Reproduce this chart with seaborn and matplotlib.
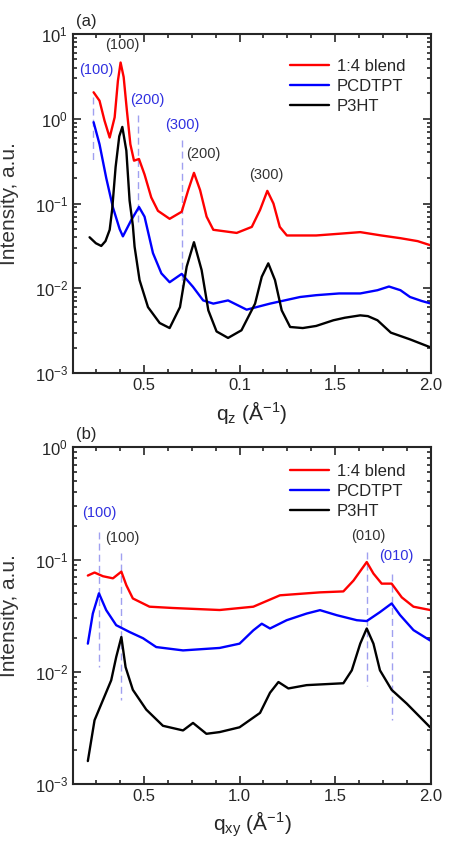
"""
GIWAXS line cuts: out-of-plane (q_z) and in-plane (q_xy) profiles.
"""
import matplotlib
matplotlib.use("Agg")
import matplotlib.pyplot as plt
import matplotlib.ticker as mticker
import seaborn as sns

sns.set_style("ticks")
plt.rcParams["font.family"] = ["Liberation Sans", "DejaVu Sans"]
plt.rcParams["mathtext.fontset"] = "custom"
plt.rcParams["mathtext.rm"] = "Liberation Sans"
plt.rcParams["mathtext.it"] = "Liberation Sans:italic"
plt.rcParams["lines.solid_joinstyle"] = "round"

RED, BLUE, BLACK = "#ff0000", "#0000ff", "#000000"
DASH = "#a0a0f0"
LBL_BLUE, LBL_DARK = "#3030e0", "#333333"
SERIES = ["1:4 blend", "PCDTPT", "P3HT"]

# ── (a) out-of-plane, q_z ────────────────────────────────────────────────────
qz_blend = [0.238, 0.269, 0.295, 0.322, 0.348, 0.365, 0.379, 0.395, 0.412, 0.43, 0.449,
            0.475, 0.504, 0.539, 0.574, 0.635, 0.698, 0.732, 0.762, 0.794, 0.828, 0.863,
            0.985, 1.064, 1.107, 1.145, 1.177, 1.21, 1.247, 1.40, 1.52, 1.63, 1.74,
            1.84, 1.93, 2.0]
iz_blend = [2.05, 1.63, 0.95, 0.60, 1.04, 2.8, 4.6, 3.1, 1.24, 0.50, 0.32,
            0.335, 0.22, 0.118, 0.082, 0.066, 0.080, 0.144, 0.23, 0.144, 0.070, 0.049,
            0.045, 0.053, 0.084, 0.141, 0.10, 0.053, 0.042, 0.042, 0.044, 0.046, 0.042,
            0.039, 0.036, 0.032]

qz_pcdtpt = [0.238, 0.269, 0.304, 0.339, 0.374, 0.391, 0.435, 0.475, 0.504, 0.548, 0.592,
             0.635, 0.698, 0.757, 0.81, 0.863, 0.94, 1.037, 1.159, 1.316, 1.40, 1.52,
             1.63, 1.72, 1.78, 1.84, 1.89, 1.95, 2.0]
iz_pcdtpt = [0.91, 0.50, 0.20, 0.090, 0.050, 0.041, 0.064, 0.091, 0.070, 0.026, 0.015,
             0.0118, 0.0148, 0.0104, 0.0072, 0.0066, 0.0072, 0.0056, 0.0066, 0.0079, 0.0083, 0.0087,
             0.0087, 0.0095, 0.0105, 0.0095, 0.0079, 0.0071, 0.0066]

qz_p3ht = [0.217, 0.25, 0.278, 0.30, 0.322, 0.335, 0.353, 0.372, 0.388, 0.409, 0.426,
           0.443, 0.452, 0.478, 0.522, 0.583, 0.635, 0.689, 0.724, 0.762, 0.802, 0.837,
           0.88, 0.94, 1.01, 1.081, 1.116, 1.15, 1.185, 1.22, 1.264, 1.33, 1.40, 1.49,
           1.55, 1.63, 1.67, 1.72, 1.79, 1.89, 2.0]
iz_p3ht = [0.040, 0.034, 0.0316, 0.036, 0.049, 0.085, 0.27, 0.62, 0.80, 0.42, 0.108,
           0.055, 0.031, 0.0125, 0.006, 0.0039, 0.0034, 0.006, 0.018, 0.035, 0.0164, 0.0055,
           0.0031, 0.0026, 0.0032, 0.0066, 0.0137, 0.0197, 0.0125, 0.0055, 0.0035, 0.0034, 0.0036, 0.0042,
           0.0045, 0.0048, 0.0047, 0.0042, 0.0030, 0.0025, 0.0020]

# dashed guide lines: (q, y_top, y_bottom)
qz_guides = [(0.236, 1.8, 0.30), (0.472, 1.1, 0.058), (0.698, 0.56, 0.010)]
# peak labels: (q, y, text, colour key)
qz_labels = [(0.25, 3.1, "(100)", "b"), (0.52, 1.37, "(200)", "b"), (0.70, 0.70, "(300)", "b"),
             (0.386, 6.1, "(100)", "k"), (0.81, 0.32, "(200)", "k"), (1.14, 0.18, "(300)", "k")]

# ── (b) in-plane, q_xy ───────────────────────────────────────────────────────
qxy_blend = [0.208, 0.243, 0.287, 0.339, 0.383, 0.409, 0.443, 0.53, 0.652, 0.896, 1.072,
             1.211, 1.42, 1.542, 1.595, 1.664, 1.699, 1.742, 1.794, 1.847, 1.908, 1.995]
ixy_blend = [0.072, 0.0766, 0.071, 0.068, 0.078, 0.059, 0.045, 0.038, 0.037, 0.0355, 0.038,
             0.048, 0.051, 0.052, 0.065, 0.095, 0.075, 0.061, 0.061, 0.046, 0.038, 0.0355]

qxy_pcdtpt = [0.208, 0.234, 0.266, 0.304, 0.356, 0.426, 0.496, 0.565, 0.705, 0.896, 1.0,
              1.072, 1.116, 1.159, 1.246, 1.35, 1.42, 1.508, 1.612, 1.664, 1.733, 1.794,
              1.838, 1.908, 1.995]
ixy_pcdtpt = [0.0178, 0.033, 0.050, 0.0354, 0.026, 0.0226, 0.0199, 0.0166, 0.0155, 0.0163, 0.0178,
              0.0234, 0.0268, 0.0243, 0.0288, 0.033, 0.0354, 0.0319, 0.0288, 0.0283, 0.034, 0.0406,
              0.032, 0.0235, 0.019]

qxy_p3ht = [0.208, 0.243, 0.287, 0.33, 0.356, 0.383, 0.405, 0.443, 0.513, 0.60, 0.705,
            0.757, 0.827, 0.896, 1.0, 1.107, 1.159, 1.203, 1.255, 1.35, 1.542, 1.586,
            1.63, 1.664, 1.699, 1.733, 1.794, 1.873, 1.995]
ixy_p3ht = [0.0016, 0.0037, 0.0056, 0.0084, 0.0135, 0.0204, 0.011, 0.0069, 0.0046, 0.0033, 0.0030,
            0.0035, 0.0028, 0.0029, 0.0032, 0.0043, 0.0065, 0.0081, 0.0071, 0.0076, 0.0079, 0.0103,
            0.0178, 0.0243, 0.0178, 0.0103, 0.0069, 0.0052, 0.0032]

qxy_guides = [(0.266, 0.175, 0.011), (0.382, 0.114, 0.0056), (1.665, 0.116, 0.0074), (1.797, 0.075, 0.0037)]
qxy_labels = [(0.27, 0.226, "(100)", "b"), (0.39, 0.134, "(100)", "k"),
              (1.67, 0.14, "(010)", "k"), (1.82, 0.093, "(010)", "b")]


def draw_panel(ax, curves, guides, labels, ylim, xticklabels, xlabel, tag, legend_anchor):
    for (q, i), name, color in zip(curves, SERIES, [RED, BLUE, BLACK]):
        sns.lineplot(x=q, y=i, ax=ax, color=color, linewidth=1.7, sort=False,
                     label=name, estimator=None)
    for q, y0, y1 in guides:
        ax.plot([q, q], [y0, y1], color=DASH, lw=1.0, ls=(0, (5, 3)), zorder=0)
    for q, y, txt, c in labels:
        ax.text(q, y, txt, ha="center", va="bottom", fontsize=10.5,
                color=LBL_BLUE if c == "b" else LBL_DARK)

    ax.set_yscale("log")
    ax.set_ylim(*ylim)
    ax.set_xlim(0.13, 2.0)
    ax.set_xticks([0.5, 1.0, 1.5, 2.0])
    ax.set_xticklabels(xticklabels)
    ax.xaxis.set_minor_locator(mticker.MultipleLocator(0.125))
    ax.yaxis.set_major_locator(mticker.LogLocator(base=10, numticks=10))
    ax.yaxis.set_minor_locator(mticker.LogLocator(base=10, subs=range(2, 10), numticks=20))
    ax.yaxis.set_minor_formatter(mticker.NullFormatter())
    ax.tick_params(which="both", direction="in", top=True, right=True, labelsize=12, width=1.2)
    ax.tick_params(which="major", length=6)
    ax.tick_params(which="minor", length=3)
    for s in ax.spines.values():
        s.set_linewidth(1.5)
        s.set_visible(True)
    ax.set_xlabel(xlabel, fontsize=15)
    ax.set_ylabel("Intensity, a.u.", fontsize=15, color="#333333")
    ax.text(0.01, 1.015, tag, transform=ax.transAxes, fontsize=12, ha="left", va="bottom")
    ax.legend(loc="upper right", bbox_to_anchor=legend_anchor, frameon=False, fontsize=12,
              handlelength=2.3, labelspacing=0.3, handletextpad=0.5)


fig = plt.figure(figsize=(4.5, 8.48), dpi=100)
ax_a = fig.add_axes([0.162, 0.560, 0.796, 0.400])
ax_b = fig.add_axes([0.162, 0.0755, 0.796, 0.397])

draw_panel(ax_a, [(qz_blend, iz_blend), (qz_pcdtpt, iz_pcdtpt), (qz_p3ht, iz_p3ht)],
           qz_guides, qz_labels, (1e-3, 1e1), ["0.5", "0.1", "1.5", "2.0"],
           r"q$_\mathregular{z}$ ($\mathregular{\AA^{-1}}$)", "(a)", (0.97, 0.97))
draw_panel(ax_b, [(qxy_blend, ixy_blend), (qxy_pcdtpt, ixy_pcdtpt), (qxy_p3ht, ixy_p3ht)],
           qxy_guides, qxy_labels, (1e-3, 1e0), ["0.5", "1.0", "1.5", "2.0"],
           r"q$_\mathregular{xy}$ ($\mathregular{\AA^{-1}}$)", "(b)", (0.97, 0.995))

ax_a.yaxis.set_label_coords(-0.15, 0.5)
ax_b.yaxis.set_label_coords(-0.15, 0.5)

fig.savefig("out.png", dpi=100)
